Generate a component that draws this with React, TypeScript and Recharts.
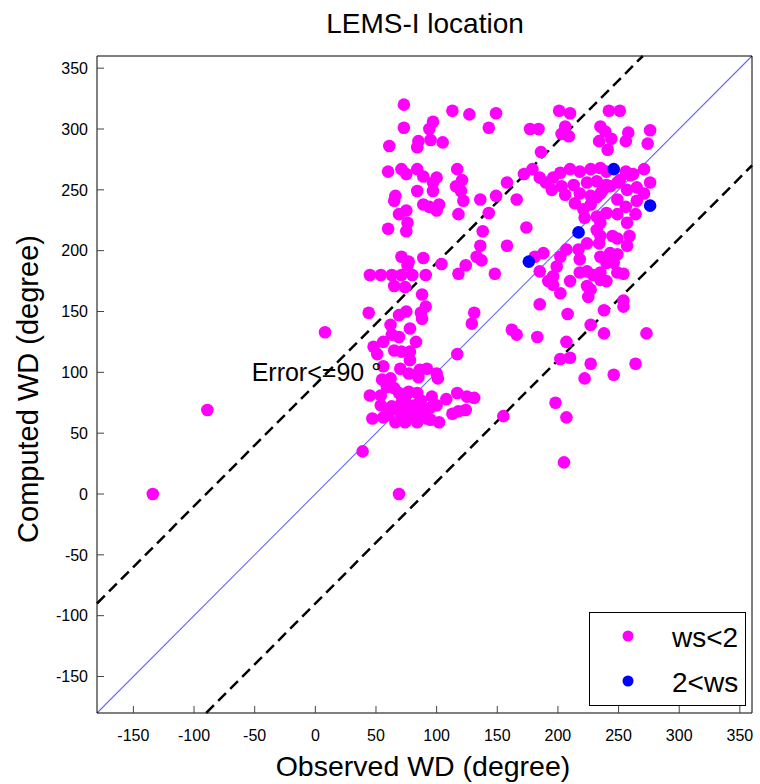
import React from 'react';
import {
  ScatterChart,
  Scatter,
  XAxis,
  YAxis,
  ReferenceLine,
  ReferenceDot,
  Legend,
} from 'recharts';

const FONT = '"Liberation Sans", Arial, Helvetica, sans-serif';

const AXIS_DOMAIN = [-180, 360];
const AXIS_TICKS = [-150, -100, -50, 0, 50, 100, 150, 200, 250, 300, 350];
const ERROR_LIMIT = 90;
const SERIES_NAMES = ['ws<2', '2<ws'];

// [observed WD, computed WD] pairs, ws<2
const leftUpper = [
  [73, 320], [113, 315], [127, 312], [149, 313], [73, 301], [97, 306], [94, 300], [143, 301],
  [61, 286], [85, 290], [84, 285], [95, 291], [105, 289], [60, 265], [71, 267], [75, 263],
  [84, 267], [89, 261], [100, 260], [97, 256], [117, 267], [121, 258], [116, 253], [120, 249],
  [97, 249], [84, 249], [66, 245], [65, 241], [122, 241], [136, 242], [149, 245], [158, 256],
  [166, 242], [89, 238], [94, 236], [102, 238], [100, 233], [75, 233], [69, 230], [76, 223],
  [118, 230], [143, 231], [60, 218], [75, 216], [138, 216], [174, 219], [136, 204], [158, 204],
  [133, 195], [137, 192], [71, 195], [77, 191], [89, 194], [104, 189], [124, 188], [76, 188],
  [118, 181], [148, 181], [45, 180], [54, 180], [63, 180], [71, 180], [80, 180], [91, 180],
];

const leftLower = [
  [65, 171], [74, 170], [88, 164], [91, 154], [87, 149], [88, 144], [44, 149], [69, 147],
  [75, 150], [62, 139], [78, 136], [131, 149], [129, 140], [162, 135], [166, 131], [63, 131],
  [69, 129], [56, 125], [48, 121], [51, 115], [83, 125], [71, 117], [78, 117], [65, 118],
  [78, 110], [117, 115], [56, 105], [70, 103], [77, 99], [86, 102], [92, 103], [85, 96],
  [100, 99], [101, 95], [55, 94], [62, 95], [59, 88], [65, 87], [45, 81], [54, 81],
  [69, 83], [77, 84], [84, 83], [96, 80], [100, 73], [108, 78], [117, 83], [125, 80],
  [131, 79], [113, 66], [118, 68], [124, 69], [47, 62], [56, 63], [66, 59], [74, 59],
  [84, 59], [92, 62], [102, 59], [63, 72], [71, 75], [78, 72], [87, 77], [95, 71],
  [71, 66], [80, 65], [87, 66], [155, 64], [74, 79], [82, 73], [91, 69], [68, 69],
  [60, 65], [54, 73], [95, 61],
];

const rightCluster = [
  [177, 300], [184, 300], [201, 315], [210, 313], [242, 315], [251, 315], [206, 302], [203, 296],
  [209, 294], [235, 302], [239, 298], [234, 290], [244, 292], [241, 283], [258, 297], [256, 290],
  [276, 299], [274, 288], [186, 281], [179, 267], [172, 263], [185, 260], [190, 256], [196, 260],
  [202, 264], [210, 267], [218, 265], [227, 267], [235, 268], [240, 265], [256, 265], [262, 263],
  [271, 267], [195, 250], [203, 253], [213, 254], [224, 256], [232, 257], [240, 254], [249, 256],
  [257, 250], [265, 252], [271, 247], [276, 256], [206, 246], [214, 239], [218, 247], [227, 245],
  [235, 247], [221, 234], [227, 238], [232, 244], [237, 250], [243, 253], [251, 258], [260, 262],
  [249, 242], [256, 236], [264, 230], [265, 241], [222, 227], [232, 228], [235, 223], [240, 231],
  [249, 230], [232, 217], [235, 212], [234, 206], [245, 212], [249, 210], [257, 223], [259, 212],
  [257, 204], [188, 198], [181, 195], [202, 195], [207, 201], [217, 201], [224, 206], [218, 193],
  [235, 195], [243, 198], [249, 197], [240, 190], [246, 190], [249, 182], [254, 181], [185, 183],
  [196, 179], [199, 187], [210, 175], [218, 182], [224, 183], [229, 180], [235, 182], [240, 175],
  [192, 175], [196, 172], [202, 165], [224, 171], [225, 162], [227, 168], [235, 176], [185, 156],
  [208, 148], [238, 151], [254, 159], [254, 154], [183, 129], [227, 139], [238, 132], [273, 132],
  [207, 125], [202, 111], [210, 112], [227, 107], [264, 107], [222, 95], [246, 98], [198, 75],
  [207, 63], [205, 26],
];

const outliers = [
  [-134, 0], [-89, 69], [8, 133], [39, 35], [69, 0],
];

// 2<ws
const windyObserved = [176, 217, 276, 246];
const windyComputed = [191, 215, 237, 267];

const calmData = [...leftUpper, ...leftLower, ...rightCluster, ...outliers].map(([x, y]) => ({ x, y }));
const windyData = windyObserved.map((x, i) => ({ x, y: windyComputed[i] }));

const [lo, hi] = AXIS_DOMAIN;

function dot(color: string) {
  return (props: any) => <circle cx={props.cx} cy={props.cy} r={6.3} fill={color} />;
}

function ErrorText(props: any) {
  return (
    <text x={props.cx} y={props.cy} fontSize={25} fontFamily={FONT} fill="#000">
      Error&lt;=90 °
    </text>
  );
}

function renderLegend(props: any) {
  const items = [...(props.payload || [])].sort(
    (a: any, b: any) => SERIES_NAMES.indexOf(a.value) - SERIES_NAMES.indexOf(b.value),
  );
  return (
    <svg width={157} height={94} style={{ display: 'block' }}>
      <rect x={0.5} y={0.5} width={156} height={93} fill="#fff" stroke="#000" strokeWidth={1} />
      {items.map((item: any, i: number) => (
        <g key={item.value}>
          <circle cx={39} cy={24 + i * 45} r={5.5} fill={item.color} />
          <text x={83} y={35 + i * 45} fontSize={28} fontFamily={FONT} fill="#000">
            {item.value}
          </text>
        </g>
      ))}
    </svg>
  );
}

const tickStyle = { fontSize: 16, fill: '#000', fontFamily: FONT };
const tickLineStyle = { stroke: '#444' };

export default function App() {
  return (
    <div style={{ position: 'absolute', left: 0, top: 0, width: 760, height: 784, background: '#fff' }}>
      <ScatterChart width={760} height={784} margin={{ top: 55, right: 7, bottom: 70, left: 96 }}>
        <XAxis
          type="number"
          dataKey="x"
          domain={AXIS_DOMAIN}
          ticks={AXIS_TICKS}
          interval={0}
          allowDataOverflow
          height={1}
          axisLine={{ stroke: '#000' }}
          tickLine={tickLineStyle}
          tickSize={-7}
          tickMargin={24}
          tick={tickStyle}
        />
        <XAxis
          xAxisId="top"
          orientation="top"
          type="number"
          domain={AXIS_DOMAIN}
          ticks={AXIS_TICKS}
          interval={0}
          allowDataOverflow
          height={1}
          axisLine={{ stroke: '#000' }}
          tickLine={tickLineStyle}
          tickSize={-7}
          tick={false}
        />
        <YAxis
          type="number"
          dataKey="y"
          domain={AXIS_DOMAIN}
          ticks={AXIS_TICKS}
          interval={0}
          allowDataOverflow
          width={1}
          axisLine={{ stroke: '#000' }}
          tickLine={tickLineStyle}
          tickSize={-7}
          tickMargin={16}
          tick={tickStyle}
        />
        <YAxis
          yAxisId="right"
          orientation="right"
          type="number"
          domain={AXIS_DOMAIN}
          ticks={AXIS_TICKS}
          interval={0}
          allowDataOverflow
          width={1}
          axisLine={{ stroke: '#000' }}
          tickLine={tickLineStyle}
          tickSize={-7}
          tick={false}
        />
        <Scatter name="ws<2" data={calmData} fill="#ff00ff" shape={dot('#ff00ff')} isAnimationActive={false} />
        <Scatter name="2<ws" data={windyData} fill="#0000ff" shape={dot('#0000ff')} isAnimationActive={false} />
        <ReferenceLine
          segment={[{ x: lo, y: lo }, { x: hi, y: hi }]}
          stroke="#6666ff"
          strokeWidth={1.1}
        />
        <ReferenceLine
          segment={[{ x: lo, y: lo + ERROR_LIMIT }, { x: hi - ERROR_LIMIT, y: hi }]}
          stroke="#000"
          strokeWidth={2.5}
          strokeDasharray="11 6"
        />
        <ReferenceLine
          segment={[{ x: lo + ERROR_LIMIT, y: lo }, { x: hi, y: hi - ERROR_LIMIT }]}
          stroke="#000"
          strokeWidth={2.5}
          strokeDasharray="11 6"
        />
        <ReferenceDot x={-52.5} y={92.5} r={0} shape={ErrorText} />
        <Legend
          layout="vertical"
          align="center"
          verticalAlign="middle"
          content={renderLegend}
          wrapperStyle={{ position: 'absolute', left: 589, top: 612, width: 157, height: 94 }}
        />
      </ScatterChart>
      <svg
        width={760}
        height={784}
        style={{ position: 'absolute', left: 0, top: 0, pointerEvents: 'none' }}
      >
        <text x={425} y={33} textAnchor="middle" fontSize={28} fontFamily={FONT} fill="#000">
          LEMS-I location
        </text>
        <text x={423} y={776} textAnchor="middle" fontSize={28.5} fontFamily={FONT} fill="#000">
          Observed WD (degree)
        </text>
        <text
          x={0}
          y={0}
          transform="translate(38, 389) rotate(-90)"
          textAnchor="middle"
          fontSize={29}
          fontFamily={FONT}
          fill="#000"
        >
          Computed WD (degree)
        </text>
      </svg>
    </div>
  );
}
